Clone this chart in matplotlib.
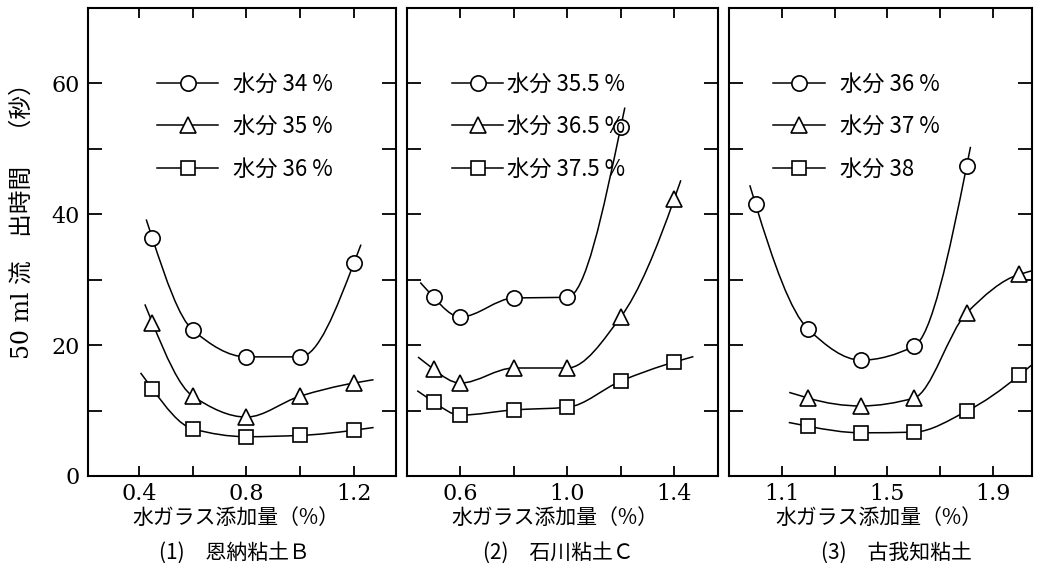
import numpy as np
import matplotlib
matplotlib.use("Agg")
import matplotlib.pyplot as plt
from matplotlib.path import Path
from matplotlib.patches import PathPatch
from matplotlib.lines import Line2D

plt.rcParams['font.family'] = ['Noto Sans CJK JP', 'DejaVu Sans']

# (1) 恩納粘土B
x1 = [0.45, 0.6, 0.8, 1.0, 1.2]
p1_w34 = [36.3, 22.3, 18.2, 18.2, 32.5]
p1_w35 = [23.4, 12.2, 9.0, 12.2, 14.2]
p1_w36 = [13.3, 7.2, 6.0, 6.2, 7.0]

# (2) 石川粘土C
x2 = [0.5, 0.6, 0.8, 1.0, 1.2, 1.4]
p2_w355 = [27.3, 24.3, 27.2, 27.3, 53.3]
p2_w365 = [16.3, 14.2, 16.5, 16.5, 24.3, 42.3]
p2_w375 = [11.3, 9.3, 10.1, 10.5, 14.5, 17.4]

# (3) 古我知粘土
x3 = [1.0, 1.2, 1.4, 1.6, 1.8, 2.0]
p3_w36 = [41.5, 22.4, 17.7, 19.8, 47.3]
p3_w37 = [11.9, 10.7, 11.9, 24.9, 30.8]
p3_w38 = [7.6, 6.6, 6.7, 9.9, 15.4]

xticks = [[0.4, 0.6, 0.8, 1.0, 1.2], [0.6, 0.8, 1.0, 1.2, 1.4], [1.1, 1.3, 1.5, 1.7, 1.9]]
xticklabels = [['0.4', '', '0.8', '', '1.2'], ['0.6', '', '1.0', '', '1.4'], ['1.1', '', '1.5', '', '1.9']]
xlims = [(0.21, 1.357), (0.40, 1.564), (0.899, 2.048)]
legend_labels = [['水分 34 %', '水分 35 %', '水分 36 %'],
                 ['水分 35.5 %', '水分 36.5 %', '水分 37.5 %'],
                 ['水分 36 %', '水分 37 %', '水分 38']]
titles = ['(1)　恩納粘土Ｂ', '(2)　石川粘土Ｃ', '(3)　古我知粘土']
xlabel = '水ガラス添加量（%）'
ylabel = '50 ml 流　出時間　（秒）'


def pchip_slopes(x, y):
    x = np.asarray(x, float)
    y = np.asarray(y, float)
    h = np.diff(x)
    m = np.diff(y) / h
    n = len(x)
    d = np.zeros(n)
    for k in range(1, n - 1):
        if m[k - 1] * m[k] > 0:
            w1 = 2 * h[k] + h[k - 1]
            w2 = h[k] + 2 * h[k - 1]
            d[k] = (w1 + w2) / (w1 / m[k - 1] + w2 / m[k])

    def end(h0, h1, m0, m1):
        e = ((2 * h0 + h1) * m0 - h0 * m1) / (h0 + h1)
        if np.sign(e) != np.sign(m0):
            e = 0.0
        elif np.sign(m0) != np.sign(m1) and abs(e) > 3 * abs(m0):
            e = 3 * m0
        return e

    d[0] = end(h[0], h[1], m[0], m[1])
    d[-1] = end(h[-1], h[-2], m[-1], m[-2])
    return d


def draw_curve(ax, x, y, marker, ms, tail=20):
    x = np.asarray(x, float)
    y = np.asarray(y, float)
    d = pchip_slopes(x, y)
    fwd = ax.transData.transform
    inv = ax.transData.inverted().transform

    def tail_point(i, sign):
        p = fwd((x[i], y[i]))
        q = fwd((x[i] + 1e-3, y[i] + d[i] * 1e-3))
        u = (q - p) / np.hypot(*(q - p))
        return inv(p + sign * u * tail)

    verts = [tail_point(0, -1), (x[0], y[0])]
    codes = [Path.MOVETO, Path.LINETO]
    for i in range(len(x) - 1):
        hh = x[i + 1] - x[i]
        verts += [(x[i] + hh / 3, y[i] + d[i] * hh / 3),
                  (x[i + 1] - hh / 3, y[i + 1] - d[i + 1] * hh / 3),
                  (x[i + 1], y[i + 1])]
        codes += [Path.CURVE4] * 3
    verts.append(tail_point(len(x) - 1, 1))
    codes.append(Path.LINETO)
    ax.add_patch(PathPatch(Path(verts, codes), fill=False, lw=1.1,
                           ec='black', zorder=2))
    ax.plot(x, y, ls='none', marker=marker, ms=ms, mfc='white',
            mec='black', mew=1.2, zorder=3)


fig = plt.figure(figsize=(10.42, 5.83), dpi=100)
W, H = 1042, 583
bounds = [(88, 396), (407, 718), (729, 1032)]
top, bottom = 8, 476

panels = [
    (x1, [p1_w34, p1_w35, p1_w36], [0, 0, 0]),
    (x2, [p2_w355, p2_w365, p2_w375], [0, 0, 0]),
    (x3, [p3_w36, p3_w37, p3_w38], [0, 1, 1]),
]
markers = [('o', 11), ('^', 11), ('s', 9.5)]
leg_pos = [(0.224, 0.862), (0.145, 0.862), (0.145, 0.862)]
leg_hl = [2.75, 2.3, 2.35]
leg_pad = [0.65, 0.15, 0.65]
xlab_pos = [0.48, 0.476, 0.495]
title_pos = [0.477, 0.486, 0.554]

axes = []
for i, (l, r) in enumerate(bounds):
    ax = fig.add_axes([l / W, (H - bottom) / H, (r - l) / W, (bottom - top) / H])
    axes.append(ax)
    ax.set_xlim(*xlims[i])
    ax.set_ylim(0, 71.5)
    for s in ax.spines.values():
        s.set_linewidth(1.5)
    ax.set_xticks(xticks[i])
    ax.set_xticklabels(xticklabels[i], family=['DejaVu Serif'], fontsize=16)
    ax.set_yticks(np.arange(0, 61, 10))
    if i == 0:
        ax.set_yticklabels(['0', '', '20', '', '40', '', '60'],
                           family=['DejaVu Serif'], fontsize=16)
    else:
        ax.set_yticklabels([])
    ax.tick_params(axis='x', direction='in', length=7, width=1.3,
                   top=True, pad=5)
    ax.tick_params(axis='y', direction='in', length=10, width=1.3,
                   right=True, pad=6)

    xs, series, offs = panels[i]
    for (mk, ms), ys, o in zip(markers, series, offs):
        draw_curve(ax, xs[o:o + len(ys)], ys, mk, ms)

    handles = [Line2D([], [], color='black', lw=1.1, marker=mk, ms=ms,
                      mfc='white', mec='black', mew=1.2) for mk, ms in markers]
    ax.legend(handles, legend_labels[i], loc='upper left',
              bbox_to_anchor=leg_pos[i], frameon=False, fontsize=16,
              handlelength=leg_hl[i], handletextpad=leg_pad[i],
              labelspacing=0.88, borderpad=0, borderaxespad=0, numpoints=1)

    ax.text(xlab_pos[i], -0.09, xlabel, transform=ax.transAxes,
            ha='center', va='center', fontsize=15)
    ax.text(title_pos[i], -0.163, titles[i], transform=ax.transAxes,
            ha='center', va='center', fontsize=15)

fig.text(22 / W, (H - 215) / H, ylabel, rotation=90, ha='center', va='center',
         fontsize=17, family=['DejaVu Serif', 'Noto Sans CJK JP'])

fig.savefig('out.png', dpi=100, facecolor='white')
